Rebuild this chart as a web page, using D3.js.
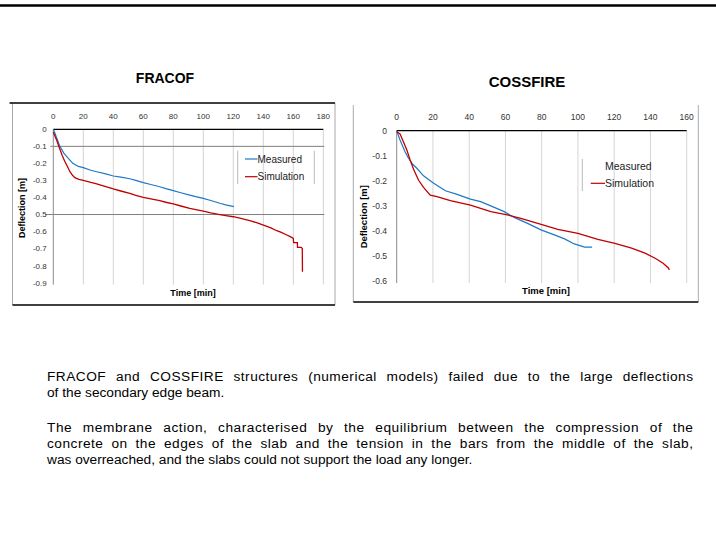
<!DOCTYPE html>
<html><head><meta charset="utf-8">
<script src="https://cdn.jsdelivr.net/npm/d3@7"></script>
<style>html,body{margin:0;padding:0;background:#fff;}svg{display:block;font-family:"Liberation Sans",Arial,sans-serif;}</style>
</head><body>
<svg id="c" width="716" height="544"></svg>
<script>
// ---------- DATA ----------
const fracofTicksX = [0,20,40,60,80,100,120,140,160,180];
const fracofTicksY = [0,-0.1,-0.2,-0.3,-0.4,-0.5,-0.6,-0.7,-0.8,-0.9];
const fracofTickLabelsY = ["0","-0.1","-0.2","-0.3","-0.4","0.5","-0.6","-0.7","-0.8","-0.9"];
const fracofHLines = [-0.1,-0.5];

const fracofMeasuredT = [0,1.1,2.2,4.4,7,10,13,16.7,20,25,28.9,35,40,45,51,55,60,65,71,75,80,85,91,95,100,105,111,115,120.4];
const fracofMeasuredD = [0,-0.023,-0.05,-0.1,-0.14,-0.17,-0.2,-0.218,-0.225,-0.24,-0.249,-0.262,-0.274,-0.281,-0.29,-0.3,-0.313,-0.324,-0.337,-0.348,-0.36,-0.372,-0.386,-0.395,-0.405,-0.418,-0.434,-0.443,-0.454];

const fracofSimT = [0,2.2,4.4,6,7.8,9.5,11.1,12.8,14.4,17,20,25,28.9,35,40,45,51,55,60,65,71,75,80,85,91,95,100,105,111,115,120,125,131,136,141,145,149,152,155.6,158,160,160.2,162.7,162.8,165.3,166,166.1];
const fracofSimD = [-0.018,-0.063,-0.117,-0.155,-0.19,-0.22,-0.249,-0.27,-0.284,-0.294,-0.30,-0.312,-0.32,-0.336,-0.35,-0.362,-0.376,-0.387,-0.40,-0.408,-0.419,-0.428,-0.438,-0.45,-0.464,-0.471,-0.48,-0.49,-0.5,-0.506,-0.513,-0.523,-0.536,-0.549,-0.565,-0.578,-0.595,-0.605,-0.62,-0.63,-0.64,-0.665,-0.665,-0.693,-0.693,-0.70,-0.836];

const cossTicksX = [0,20,40,60,80,100,120,140,160];
const cossTicksY = [0,-0.1,-0.2,-0.3,-0.4,-0.5,-0.6];
const cossTickLabelsY = ["0","-0.1","-0.2","-0.3","-0.4","-0.5","-0.6"];

const cossMeasuredT = [0,1.85,4.6,6.5,9,11.1,14.8,20.4,26.9,33.3,40.7,46.3,51.9,59.3,64.8,72.2,79.6,87,92.6,98,103.7,107.8];
const cossMeasuredD = [0,-0.037,-0.084,-0.11,-0.135,-0.15,-0.18,-0.21,-0.24,-0.254,-0.273,-0.283,-0.30,-0.323,-0.346,-0.37,-0.396,-0.416,-0.432,-0.452,-0.465,-0.465];

const cossSimT = [0,1.85,3.7,5.6,7.4,9.3,12,14.8,18.5,22.2,29.6,40.7,51.9,61,68.5,77.8,88.9,100,111,120.4,129.6,137,142.6,147,150,150.4];
const cossSimD = [-0.004,-0.013,-0.044,-0.077,-0.117,-0.154,-0.197,-0.226,-0.257,-0.263,-0.279,-0.297,-0.323,-0.336,-0.35,-0.37,-0.394,-0.41,-0.434,-0.45,-0.469,-0.489,-0.509,-0.529,-0.549,-0.556];

const seriesNames = ["Measured","Simulation"];
const chartTitles = ["FRACOF","COSSFIRE"];
const axisTitles = ["Time [min]","Deflection [m]"];

const para1 = ["FRACOF and COSSFIRE structures (numerical models) failed due to the large deflections",
               "of the secondary edge beam."];
const para2 = ["The membrane action, characterised by the equilibrium between the compression of the",
               "concrete on the edges of the slab and the tension in the bars from the middle of the slab,",
               "was overreached, and the slabs could not support the load any longer."];

// ---------- DRAW ----------
const svg = d3.select("#c");
const BLUE = "#1f78c8", RED = "#c00000";

svg.append("line").attr("x1",0).attr("x2",716).attr("y1",5.5).attr("y2",5.5).attr("stroke","#000").attr("stroke-width",2.5);

svg.append("text").attr("x",165).attr("y",82.7).attr("text-anchor","middle").attr("font-weight","bold").attr("font-size",14).text(chartTitles[0]);
svg.append("text").attr("x",527).attr("y",86.5).attr("text-anchor","middle").attr("font-weight","bold").attr("font-size",15).text(chartTitles[1]);

function zip(t,d){ return t.map((v,i)=>[v,d[i]]); }

function chart(o){
  const g = svg.append("g");
  const x = d3.scaleLinear().domain(o.xd).range(o.xr);
  const y = d3.scaleLinear().domain(o.yd).range(o.yr);
  g.append("line").attr("x1",o.frame[0]).attr("x2",o.frame[0]).attr("y1",o.frame[1]).attr("y2",o.frame[3]).attr("stroke","#aaa");
  g.append("line").attr("x1",o.frame[2]).attr("x2",o.frame[2]).attr("y1",o.frame[1]).attr("y2",o.frame[3]).attr("stroke","#aaa");
  g.append("line").attr("x1",o.frame[0]).attr("x2",o.frame[2]).attr("y1",o.frame[3]).attr("y2",o.frame[3]).attr("stroke","#000").attr("stroke-width",1.5);
  if(o.frameTop) g.append("line").attr("x1",o.frame[0]-3).attr("x2",o.frame[2]).attr("y1",o.frame[1]).attr("y2",o.frame[1]).attr("stroke","#000").attr("stroke-width",1.5);
  o.ticksX.slice(1).forEach(t=>{
    g.append("line").attr("x1",x(t)).attr("x2",x(t)).attr("y1",y(0)).attr("y2",y(o.yd[1])+2)
      .attr("stroke","#d4d4d4").attr("stroke-width",1);
  });
  (o.hLines||[]).forEach(v=>{
    g.append("line").attr("x1",v===-0.5?45:x(0)-3).attr("x2",x(o.xd[1])+1).attr("y1",y(v)).attr("y2",y(v))
      .attr("stroke","#7f7f7f").attr("stroke-width",1);
  });
  g.append("line").attr("x1",x(0)).attr("x2",x(0)).attr("y1",y(0)).attr("y2",y(o.yd[1])+2).attr("stroke","#8c8c8c");
  g.append("line").attr("x1",x(0)).attr("x2",x(o.xd[1])).attr("y1",y(0)).attr("y2",y(0)).attr("stroke","#000").attr("stroke-width",1.2);
  g.selectAll(null).data(o.ticksX).enter().append("text")
    .attr("x",d=>x(d)).attr("y",o.xLabY).attr("text-anchor","middle").attr("font-size",o.tickFs).attr("fill","#333").text(d=>d);
  g.selectAll(null).data(o.ticksY).enter().append("text")
    .attr("x",o.yLabX).attr("y",d=>y(d)+o.tickFs*0.36).attr("text-anchor","end").attr("font-size",o.tickFs).attr("fill","#333")
    .text((d,i)=>o.labelsY[i]);
  g.append("text").attr("x",o.xTitle[0]).attr("y",o.xTitle[1]).attr("text-anchor","middle").attr("font-weight","bold").attr("font-size",o.titleFs).text(axisTitles[0]);
  g.append("text").attr("transform",`translate(${o.yTitle[0]},${o.yTitle[1]}) rotate(-90)`).attr("text-anchor","middle").attr("font-weight","bold").attr("font-size",o.titleFs).text(axisTitles[1]);
  const line = d3.line().x(d=>x(d[0])).y(d=>y(d[1]));
  g.append("path").datum(zip(o.mT,o.mD)).attr("d",line).attr("fill","none").attr("stroke",BLUE).attr("stroke-width",1.2);
  g.append("path").datum(zip(o.sT,o.sD)).attr("d",line).attr("fill","none").attr("stroke",RED).attr("stroke-width",1.3);
  const L = o.legend;
  L.bars.forEach(bx=>g.append("line").attr("x1",bx).attr("x2",bx).attr("y1",L.y0).attr("y2",L.y1).attr("stroke","#bbb"));
  seriesNames.forEach((n,i)=>{
    const yy = L.rows[i];
    if(L.swatch[i]) g.append("line").attr("x1",L.sx[0]).attr("x2",L.sx[1]).attr("y1",yy).attr("y2",yy).attr("stroke",i===0?BLUE:RED).attr("stroke-width",1.2);
    g.append("text").attr("x",L.tx).attr("y",yy+L.fs*0.36).attr("font-size",L.fs).attr("fill","#222").text(n);
  });
}

chart({
  xd:[0,180], xr:[53.3,323.3], yd:[0,-0.9], yr:[129.3,282.7],
  frame:[12.5,103,335,305], frameTop:true,
  ticksX:fracofTicksX, ticksY:fracofTicksY, labelsY:fracofTickLabelsY, hLines:fracofHLines,
  xLabY:118.6, yLabX:46.7, tickFs:8,
  xTitle:[193,296], yTitle:[24.5,208], titleFs:9,
  mT:fracofMeasuredT, mD:fracofMeasuredD, sT:fracofSimT, sD:fracofSimD,
  legend:{bars:[237.7,314.3], y0:150.7, y1:184, rows:[159,176.7], sx:[245,257.5], tx:257.5, fs:10, swatch:[true,true]}
});

chart({
  xd:[0,160], xr:[396.7,686.7], yd:[0,-0.6], yr:[130.7,281],
  frame:[353.3,105,698.3,302], frameTop:false,
  ticksX:cossTicksX, ticksY:cossTicksY, labelsY:cossTickLabelsY, hLines:[],
  xLabY:120.4, yLabX:387, tickFs:8.5,
  xTitle:[546,294], yTitle:[366.5,216.7], titleFs:9.5,
  mT:cossMeasuredT, mD:cossMeasuredD, sT:cossSimT, sD:cossSimD,
  legend:{bars:[582.3], y0:159, y1:191, rows:[166.7,183.3], sx:[590.7,605], tx:605, fs:10.5, swatch:[false,true]}
});

// paragraphs, justified (part letter spacing, part word spacing)
const fs = 13.7, x0 = 47, x1 = 693;
function para(lines, y0){
  lines.forEach((s,i)=>{
    const t = svg.append("text").attr("x",x0).attr("y",y0+i*16).attr("font-size",fs).attr("fill","#000").text(s);
    if(i<lines.length-1){
      const w = t.node().getComputedTextLength();
      const extra = Math.max(0,(x1-x0)-w);
      const nChars = s.length - 1;
      const nSp = (s.match(/ /g)||[]).length;
      const ls = extra*0.4/nChars;
      t.attr("letter-spacing",ls).attr("word-spacing",extra*0.6/nSp);
    }
  });
}
para(para1, 381);
para(para2, 432);
</script>
</body></html>
